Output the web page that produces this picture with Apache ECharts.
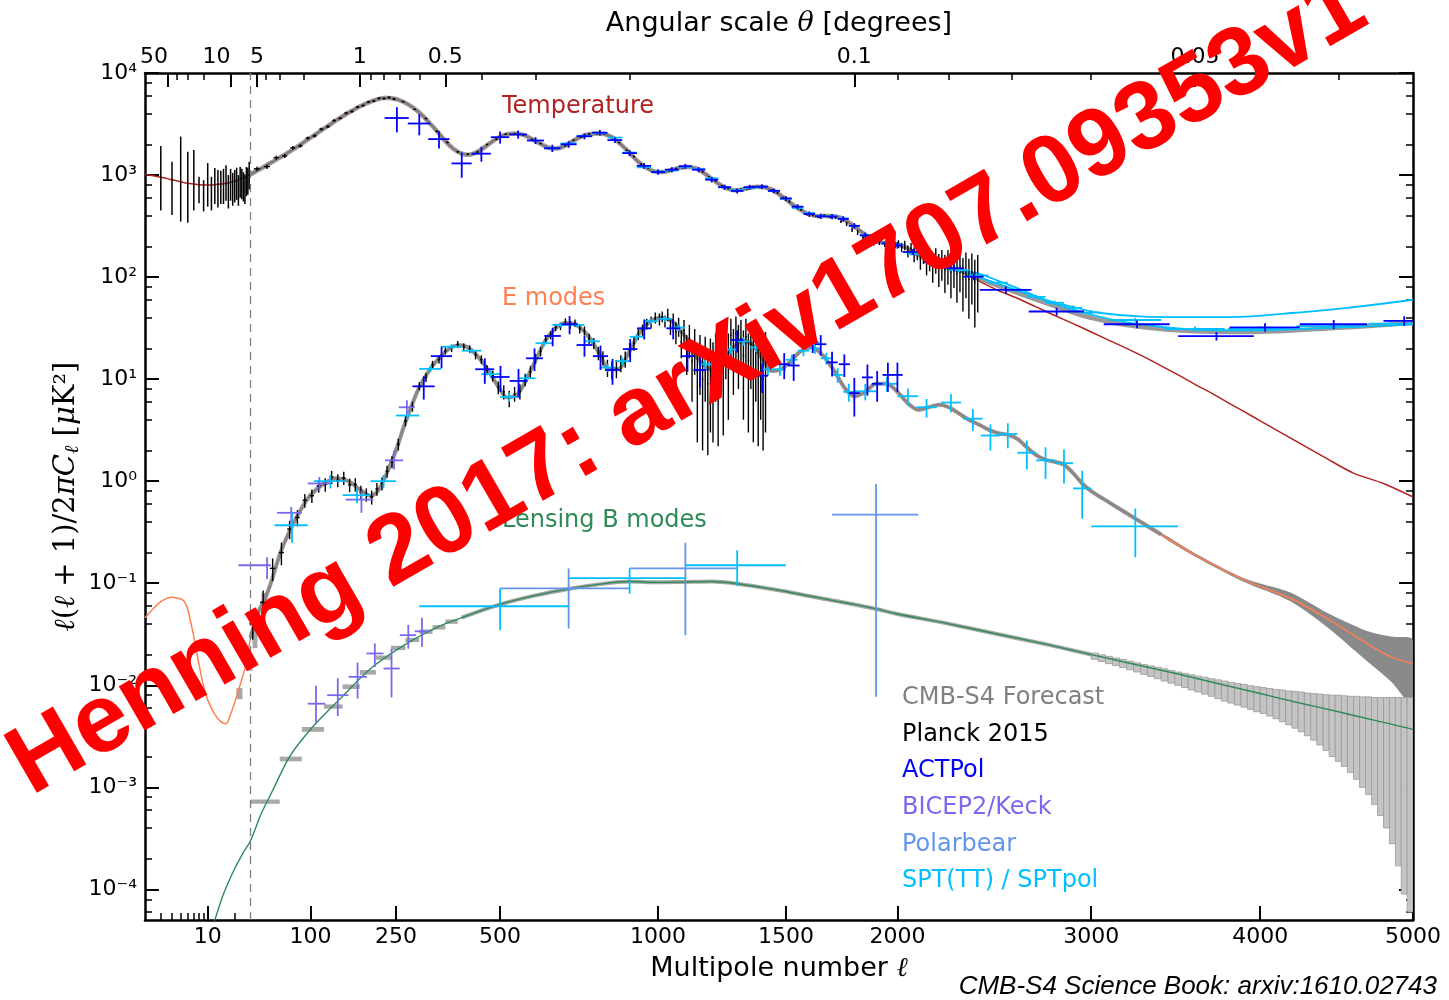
<!DOCTYPE html>
<html>
<head>
<meta charset="utf-8">
<title>CMB temperature and polarization power spectra</title>
<script src="https://cdn.jsdelivr.net/npm/echarts@6/dist/echarts.min.js"></script>
<style>
  html, body { margin: 0; padding: 0; background: #ffffff; }
  #chart { width: 1449px; height: 1000px; }
</style>
</head>
<body>
<div id="chart"></div>
<script>
// ---------------- Axis ticks ----------------
const ellTicks = [10, 100, 250, 500, 1000, 1500, 2000, 3000, 4000, 5000];
const ellMinorTicks = [3, 4, 5, 6, 7, 8, 9, 20];
const thetaTicks = [50, 10, 5, 1, 0.5, 0.1, 0.05];
const thetaTickLabels = ['50', '10', '5', '1', '0.5', '0.1', '0.05'];
const thetaMinorTicks = [40, 30, 20, 4, 3, 2, 0.9, 0.8, 0.7, 0.6, 0.4, 0.3, 0.2, 0.09, 0.08, 0.07, 0.06, 0.04];
const powerExponents = [-4, -3, -2, -1, 0, 1, 2, 3, 4];
const powerMinorMultipliers = [2, 4, 6, 8];

// ---------------- Theory spectra, D_ell = ell(ell+1)C_ell/2pi [uK^2] ----------------
const ttEll = [
  2, 3, 4, 5, 6, 8, 10, 12, 15, 20,
  25, 30, 35, 40, 50, 60, 70, 80, 90, 100,
  120, 140, 160, 180, 200, 215, 225, 235, 245, 260,
  280, 300, 320, 340, 360, 380, 400, 415, 430, 450,
  470, 500, 520, 540, 560, 580, 600, 620, 640, 660,
  680, 700, 730, 760, 790, 815, 840, 870, 900, 930,
  960, 990, 1020, 1050, 1080, 1110, 1140, 1170, 1200, 1230,
  1260, 1290, 1320, 1350, 1380, 1410, 1440, 1470, 1500, 1530,
  1560, 1590, 1620, 1650, 1680, 1710, 1740, 1770, 1800, 1830,
  1860, 1890, 1920, 1950, 1980, 2010, 2040, 2070, 2100, 2150,
  2200, 2250, 2300, 2350, 2400, 2450, 2500, 2600, 2700, 2800,
  2900, 3000, 3100, 3200, 3300, 3400, 3500, 3600, 3700, 3800,
  3900, 4000, 4200, 4400, 4600, 4800, 5000];
const ttD = [
  1010, 950, 900, 860, 830, 805, 800, 805, 820, 870,
  940, 1010, 1090, 1160, 1320, 1480, 1660, 1860, 2080, 2320,
  2850, 3450, 4080, 4700, 5250, 5550, 5680, 5700, 5620, 5350,
  4800, 4100, 3350, 2700, 2150, 1800, 1620, 1580, 1620, 1780,
  2020, 2380, 2520, 2560, 2500, 2350, 2150, 1980, 1850, 1820,
  1880, 2030, 2300, 2500, 2560, 2520, 2350, 2000, 1650, 1350,
  1170, 1080, 1070, 1120, 1180, 1200, 1160, 1050, 920, 810,
  740, 710, 720, 750, 770, 760, 720, 650, 580, 510,
  460, 420, 400, 395, 398, 395, 380, 350, 315, 280,
  250, 230, 220, 215, 212, 205, 195, 180, 165, 145,
  132, 124, 115, 104, 92, 82, 74, 62, 51, 42,
  35, 29, 24, 20, 16.5, 13.5, 11, 8.9, 7.3, 5.9,
  4.8, 3.9, 2.6, 1.75, 1.2, 0.95, 0.7];

const eeEll = [
  2, 2.5, 3, 3.5, 4, 5, 5.5, 6, 7, 8,
  9, 10, 12, 14, 16, 18, 20, 24, 27, 30,
  35, 40, 45, 50, 60, 70, 80, 90, 100, 120,
  140, 160, 180, 200, 215, 230, 250, 270, 300, 330,
  360, 380, 400, 430, 460, 490, 520, 550, 590, 630,
  660, 690, 720, 760, 800, 830, 860, 900, 940, 980,
  1010, 1050, 1100, 1150, 1200, 1240, 1280, 1320, 1360, 1400,
  1440, 1480, 1520, 1560, 1610, 1660, 1710, 1760, 1800, 1850,
  1900, 1950, 2000, 2050, 2100, 2150, 2200, 2250, 2300, 2350,
  2400, 2450, 2500, 2550, 2600, 2650, 2700, 2750, 2800, 2850,
  2900, 2950, 3000, 3100, 3250, 3400, 3600, 3900, 4200, 4450,
  4700, 4850, 5000];
const eeD = [
  0.046, 0.057, 0.066, 0.071, 0.073, 0.07, 0.066, 0.055, 0.03, 0.016,
  0.0098, 0.0072, 0.0052, 0.0044, 0.0042, 0.0052, 0.0068, 0.0115, 0.0165, 0.029,
  0.045, 0.06, 0.075, 0.1, 0.19, 0.3, 0.43, 0.58, 0.73, 0.95,
  1.07, 1.0, 0.83, 0.72, 0.82, 1.15, 2.0, 3.8, 8.3, 13.5,
  18.5, 21, 21.5, 18.5, 13.5, 9, 6.6, 7.2, 13, 24,
  31.5, 35.5, 34.5, 27, 17.5, 12.5, 12.5, 19, 30, 38,
  40, 37, 26, 15.5, 12.5, 15, 20, 23.5, 22, 16,
  12, 12.5, 15, 18.5, 20.5, 17, 12, 8, 6.8, 7.5,
  9, 9, 7.5, 5.8, 5.0, 5.3, 5.6, 5.3, 4.6, 4.0,
  3.6, 3.2, 2.95, 2.85, 2.6, 2.15, 1.8, 1.62, 1.55, 1.45,
  1.2, 0.95, 0.8, 0.62, 0.43, 0.3, 0.19, 0.108, 0.07, 0.043,
  0.025, 0.019, 0.0164];

const bbEll = [
  10, 12, 15, 20, 25, 30, 40, 52, 72, 103,
  145, 203, 275, 340, 400, 500, 600, 700, 800, 900,
  1000, 1100, 1200, 1300, 1400, 1500, 1600, 1700, 1800, 1900,
  2000, 2250, 2500, 2750, 3000, 3250, 3500, 3750, 4000, 4250,
  4500, 4750, 5000];
const bbD = [
  3.0e-5, 5.0e-5, 9.0e-5, 1.6e-4, 2.3e-4, 3.0e-4, 5.5e-4, 9.3e-4, 2.0e-3, 3.9e-3,
  7.3e-3, 0.015, 0.026, 0.037, 0.046, 0.062, 0.076, 0.088, 0.098, 0.104,
  0.102, 0.103, 0.104, 0.099, 0.091, 0.083, 0.075, 0.068, 0.062, 0.056,
  0.05, 0.04, 0.0316, 0.0253, 0.020, 0.016, 0.0129, 0.0103, 0.0083, 0.0067,
  0.0055, 0.0045, 0.0037];

// Temperature forecast beyond the primary damping tail (CMB + foregrounds)
const ttFcEll = [2300, 2400, 2500, 2600, 2700, 2800, 2900, 3000, 3200, 3400, 3600, 3800, 4000, 4200, 4400, 4600, 4800, 5000];
const ttFcD   = [117, 97, 82, 70, 60, 52, 45, 40, 34, 31, 29.5, 29, 29.2, 30, 31.2, 32.5, 34, 35.5];

// SPT temperature model curves at high ell
const sptModelHiEll = [2300, 2400, 2500, 2600, 2750, 2900, 3030, 3300, 3600, 3900, 4200, 4560, 5000];
const sptModelHiD   = [118, 108, 92, 78, 60, 51, 45, 41, 40.5, 41, 44.5, 50, 60];
const sptModelLoEll = [2300, 2400, 2500, 2600, 2800, 3000, 3200, 3500, 3800, 4200, 4600, 5000];
const sptModelLoD   = [118, 100, 86, 74, 55, 43, 36, 31.5, 30, 30.8, 32.5, 34.5];

// ---------------- CMB-S4 forecast ----------------
const eeBandEll = [3400, 3600, 3900, 4190, 4430, 4690, 4850, 5000];
const eeBandHi  = [0.31, 0.197, 0.112, 0.081, 0.051, 0.034, 0.030, 0.0277];
const eeBandLo  = [0.29, 0.183, 0.103, 0.0667, 0.0368, 0.0172, 0.0109, 0.0064];

const eeBoxEllLo = [20.9, 27.1, 31.8, 40.3];
const eeBoxEllHi = [24.4, 31.8, 36.4, 46.4];
const eeBoxLo    = [0.0073, 0.0139, 0.0231, 0.0547];
const eeBoxHi    = [0.0094, 0.0194, 0.0387, 0.0805];

const bbLowEdges = [30, 60, 88, 120, 150, 180, 210, 240, 270, 300, 330, 360, 390];
const bbLowLo = [6.9e-4, 1.8e-3, 3.5e-3, 5.9e-3, 9.2e-3, 0.0127, 0.0178, 0.0221, 0.0265, 0.0319, 0.0352, 0.040];
const bbLowHi = [7.6e-4, 2.0e-3, 3.9e-3, 6.5e-3, 0.0102, 0.0141, 0.0196, 0.0244, 0.0292, 0.0352, 0.0389, 0.0441];

const bbHighEdges = [
  3000, 3040, 3080, 3120, 3160, 3200, 3240, 3280, 3320, 3360,
  3400, 3440, 3480, 3520, 3560, 3600, 3640, 3680, 3720, 3760,
  3800, 3840, 3880, 3920, 3960, 4000, 4040, 4080, 4120, 4160,
  4200, 4240, 4280, 4320, 4360, 4400, 4440, 4480, 4520, 4560,
  4600, 4640, 4680, 4720, 4760, 4800, 4840, 4880, 4920, 4960, 5000];
const bbHighHi = [
  0.0207, 0.0199, 0.0192, 0.0185, 0.0179, 0.0172, 0.0166, 0.0160, 0.0155, 0.0150,
  0.0145, 0.0140, 0.0135, 0.0131, 0.0127, 0.0123, 0.0120, 0.0116, 0.0113, 0.0110,
  0.0107, 0.0104, 0.0102, 0.0099, 0.0097, 0.0095, 0.0093, 0.0091, 0.0090, 0.0088,
  0.0087, 0.0086, 0.0084, 0.0083, 0.0082, 0.0081, 0.0080, 0.0080, 0.0079, 0.0078,
  0.0078, 0.0077, 0.0077, 0.0076, 0.0076, 0.0076, 0.0076, 0.0076, 0.0076, 0.0076];
const bbHighLo = [
  0.0180, 0.0171, 0.0163, 0.0156, 0.0149, 0.0142, 0.0135, 0.0128, 0.0122, 0.0116,
  0.0110, 0.0105, 0.0100, 0.0095, 0.0090, 0.0086, 0.0082, 0.0078, 0.0074, 0.0070,
  0.0067, 0.0064, 0.0061, 0.0058, 0.0055, 0.0053, 0.0050, 0.0047, 0.0044, 0.0041,
  0.0038, 0.0035, 0.0032, 0.0029, 0.0026, 0.0023, 0.0020, 0.0018, 0.0016, 0.0014,
  0.0012, 0.0010, 0.00085, 0.00068, 0.00053, 0.00040, 0.00028, 0.00017, 0.00009, 0.00006];

// ---------------- Planck 2015 ----------------
const planckTTLowEll = [3, 4, 5, 6, 7, 8, 9, 10, 11, 12, 13, 14, 15, 16, 17, 18, 19, 20, 21, 22, 23, 24, 25, 26, 27, 28, 29];
const planckTTLowD  = [1000, 760, 1250, 900, 1100, 720, 640, 850, 680, 800, 760, 780, 800, 880, 700, 830, 740, 800, 850, 720, 880, 840, 780, 740, 900, 900, 1050];
const planckTTLowLo = [450, 405, 350, 340, 450, 530, 440, 490, 450, 520, 480, 520, 520, 560, 470, 560, 500, 540, 570, 500, 600, 580, 550, 520, 620, 640, 720];
const planckTTLowHi = [1930, 1350, 2380, 1690, 1760, 960, 890, 1310, 960, 1170, 1120, 1100, 1150, 1250, 1000, 1150, 1050, 1120, 1180, 1000, 1200, 1150, 1070, 1020, 1200, 1180, 1350];

const planckTTEll = [
  36, 46, 56, 66, 76, 86, 96, 106, 116, 126, 136, 146, 156, 166, 176, 186, 196, 206, 216, 226, 236, 246,
  265, 290, 315, 340, 365, 390, 415, 440, 465, 490,
  515, 540, 565, 590, 615, 640, 665, 690, 715, 740,
  765, 790, 815, 840, 865, 890, 915, 940, 965, 990,
  1015, 1040, 1065, 1090, 1115, 1140, 1165, 1190, 1215, 1240,
  1265, 1290, 1315, 1340, 1365, 1390, 1415, 1440, 1465, 1490,
  1515, 1540, 1565, 1590, 1615, 1640, 1665, 1690, 1715, 1740,
  1765, 1790, 1815, 1840, 1865, 1890, 1915, 1940, 1965, 1990,
  2005, 2020, 2035, 2050, 2065, 2080, 2095, 2110, 2125, 2140, 2155, 2170, 2185, 2200,
  2215, 2230, 2245, 2260, 2275, 2290, 2305, 2320, 2335, 2350, 2365, 2380, 2395];
const planckTTD = [
  1150, 1210, 1480, 1540, 1850, 1930, 2300, 2420, 2820, 2980, 3420, 3600, 4050, 4200, 4650, 4800, 5200, 5300, 5650, 5620, 5760, 5560,
  5250, 4400, 3580, 2680, 2090, 1690, 1600, 1680, 1990, 2240,
  2510, 2540, 2480, 2230, 2040, 1830, 1850, 1940, 2190, 2350,
  2530, 2540, 2540, 2330, 2080, 1750, 1520, 1280, 1165, 1070,
  1080, 1095, 1160, 1180, 1205, 1150, 1080, 955, 875, 780,
  740, 705, 725, 735, 768, 760, 760, 712, 668, 598,
  550, 488, 458, 415, 408, 392, 402, 390, 384, 350,
  332, 292, 274, 243, 234, 218, 220, 210, 216, 205,
  212, 196, 205, 180, 190, 168, 176, 150, 168, 140, 152, 128, 150, 124,
  138, 118, 134, 112, 130, 108, 125, 100, 118, 95, 112, 90, 105];
const planckTTErr = [
  60, 62, 65, 68, 72, 76, 80, 84, 90, 95, 100, 105, 110, 115, 120, 125, 130, 135, 140, 145, 145, 145,
  80, 70, 60, 50, 40, 35, 32, 32, 36, 40,
  42, 42, 40, 36, 32, 30, 30, 30, 32, 34,
  36, 36, 36, 34, 30, 27, 24, 22, 20, 20,
  20, 20, 21, 22, 22, 21, 20, 19, 18, 17,
  16, 16, 16, 17, 18, 18, 18, 17, 16, 15,
  15, 14, 14, 13, 13, 13, 13, 13, 13, 12,
  16, 16, 15, 15, 14, 14, 14, 13, 13, 13,
  18, 20, 22, 24, 26, 28, 30, 32, 34, 36, 38, 40, 42, 44,
  46, 48, 50, 50, 52, 52, 54, 54, 56, 56, 58, 58, 60];

const planckEEEll = [
  32, 42, 52, 62, 72, 82, 92, 102, 112, 122, 132, 142, 152, 162, 172, 182, 192, 202, 212, 222, 232, 242,
  255, 270, 285, 300, 315, 330, 345, 360, 375, 390,
  405, 420, 435, 450, 465, 480, 495, 510, 525, 540,
  555, 570, 585, 600, 615, 630, 645, 660, 675, 690,
  705, 720, 735, 750, 765, 780, 795, 810, 825, 840,
  855, 870, 885, 900, 915, 930, 945, 960, 975, 990, 1005,
  1015, 1025, 1035, 1045, 1055, 1065, 1075, 1085, 1095, 1105,
  1115, 1125, 1135, 1145, 1155, 1165, 1175, 1185, 1195, 1205,
  1215, 1225, 1235, 1245, 1255, 1265, 1275, 1285, 1295, 1305,
  1315, 1325, 1335, 1345, 1355, 1365, 1375, 1385, 1395, 1405, 1415];
const planckEED = [
  0.04, 0.065, 0.14, 0.2, 0.34, 0.44, 0.65, 0.72, 0.9, 0.93, 1.1, 1.02, 1.08, 0.92, 0.93, 0.78, 0.74, 0.7, 0.84, 0.95, 1.25, 1.55,
  2.3, 3.9, 5.4, 8.6, 10.4, 13.9, 15.5, 19.0, 20.0, 21.9,
  20.6, 19.8, 17.2, 15.6, 12.3, 10.8, 8.3, 7.5, 6.5, 7.2,
  7.6, 9.9, 11.8, 15.9, 18.7, 24.6, 27.0, 32.3, 33.0, 36.4,
  34.2, 35.5, 31.0, 29.8, 25.0, 22.5, 18.0, 16.2, 13.0, 12.4,
  12.8, 14.4, 15.8, 19.5, 22.4, 27.9, 30.2, 34.8, 36.5, 40.0, 38.8,
  41, 37, 43, 33, 38, 29, 33, 23, 30, 19,
  25, 15, 21, 12, 17, 10, 16, 9, 14, 12,
  17, 11, 19, 14, 22, 16, 27, 19, 28, 21,
  25, 17, 26, 15, 22, 12, 20, 11, 18, 10, 15];
const planckEEErr = [
  0.012, 0.02, 0.035, 0.05, 0.07, 0.08, 0.1, 0.11, 0.13, 0.14, 0.16, 0.15, 0.16, 0.14, 0.14, 0.12, 0.11, 0.11, 0.12, 0.14, 0.17, 0.21,
  0.3, 0.45, 0.6, 0.8, 1.0, 1.2, 1.3, 1.5, 1.6, 1.7,
  1.7, 1.7, 1.6, 1.5, 1.4, 1.3, 1.2, 1.2, 1.2, 1.2,
  1.3, 1.4, 1.6, 1.8, 2.0, 2.2, 2.4, 2.6, 2.8, 3.0,
  3.0, 3.0, 3.0, 3.0, 2.9, 2.8, 2.7, 2.6, 2.5, 2.5,
  2.6, 2.7, 2.9, 3.1, 3.4, 3.7, 4.0, 4.3, 4.6, 5.0, 5.3,
  5, 5, 6, 6, 6, 7, 7, 7, 8, 8,
  9, 9, 10, 10, 10, 10, 10, 10, 11, 11,
  11, 11, 11, 12, 12, 12, 12, 12, 13, 13,
  13, 13, 13, 13, 14, 14, 14, 14, 14, 14, 14];

// ---------------- ACTPol ----------------
const actTTEll = [
  252, 300, 345, 400, 450, 500, 550, 600, 650, 700,
  750, 800, 850, 900, 950, 1000, 1050, 1100, 1150, 1200,
  1250, 1300, 1350, 1400, 1450, 1500, 1550, 1600, 1650, 1700,
  1750, 1800, 1850, 1900, 1950, 2000, 2075, 2175, 2275, 2375,
  2540, 2810, 3260, 3730, 4030, 4470, 4940];
const actTTD = [
  3620, 3200, 2250, 1300, 1620, 2350, 2500, 2180, 1830, 2000,
  2400, 2600, 2200, 1640, 1230, 1070, 1130, 1220, 1130, 900,
  760, 700, 760, 770, 700, 590, 490, 415, 395, 392,
  372, 318, 256, 226, 214, 205, 176, 140, 122, 101,
  75, 46, 34.5, 26.4, 32.2, 34.5, 37.3];
const actTTHw = [
  25, 25, 25, 25, 25, 25, 25, 25, 25, 25,
  25, 25, 25, 25, 25, 25, 25, 25, 25, 25,
  25, 25, 25, 25, 25, 25, 25, 25, 25, 25,
  25, 25, 25, 25, 25, 25, 50, 50, 50, 50,
  135, 150, 190, 230, 220, 220, 140];
const actTTErr = [
  1000, 750, 430, 360, 270, 320, 230, 170, 150, 150,
  160, 160, 140, 110, 80, 65, 65, 70, 65, 55,
  45, 40, 42, 42, 38, 33, 28, 25, 24, 24,
  23, 20, 17, 15, 15, 15, 12, 10, 9, 8,
  6, 4, 3, 2.5, 3, 3.5, 4];

const actEEEll = [
  310, 351, 459, 501, 551, 597, 651, 703, 750, 802,
  842, 902, 951, 1055, 1108, 1155, 1300, 1401, 1493, 1533,
  1615, 1650, 1700, 1755, 1800, 1860, 1905, 1955, 2000];
const actEED = [
  8.5, 16.8, 12.5, 10.5, 9.6, 16, 26.5, 34.5, 21.6, 16.8,
  12.3, 19.7, 31.5, 31.5, 16.8, 12.3, 24.2, 10.8, 14.0, 13.6,
  23, 22, 14.6, 14, 7.3, 10.4, 9, 11, 11];
const actEEErr = [
  2.2, 4, 3.5, 3, 3, 4, 5.5, 7, 5, 4.5,
  3.5, 5, 7, 7, 5, 4, 6, 3.5, 4, 4,
  5, 5, 4, 3.5, 3, 3.5, 3, 3.5, 3.5];
const actEEHw = 25;

// ---------------- SPT / SPTpol ----------------
const sptTTEll = [
  650, 700, 750, 800, 850, 900, 950, 1000, 1050, 1100,
  1150, 1200, 1250, 1300, 1350, 1400, 1450, 1500, 1550, 1600,
  1650, 1700, 1750, 1800, 1850, 1900, 1950, 2000, 2100, 2200,
  2300, 2400, 2500, 2600, 2700, 2800, 2900, 3000, 3250, 3600,
  4000, 4450, 4850];
const sptTTD = [
  1830, 2040, 2420, 2580, 2330, 1660, 1190, 1080, 1110, 1200,
  1150, 930, 760, 715, 745, 765, 700, 585, 475, 425,
  398, 396, 376, 318, 258, 228, 216, 207, 168, 135,
  117, 104, 88, 75, 64, 56, 50, 45, 38, 31,
  31, 33, 35];
const sptTTHw = [
  25, 25, 25, 25, 25, 25, 25, 25, 25, 25,
  25, 25, 25, 25, 25, 25, 25, 25, 25, 25,
  25, 25, 25, 25, 25, 25, 25, 25, 50, 50,
  50, 50, 50, 50, 50, 50, 50, 50, 150, 180,
  200, 220, 150];
const sptTTErr = [
  40, 45, 50, 50, 45, 35, 25, 22, 22, 24,
  23, 19, 16, 15, 16, 16, 15, 13, 11, 10,
  10, 10, 10, 9, 8, 7, 7, 7, 6, 5,
  5, 4.5, 4, 3.5, 3, 2.8, 2.6, 2.4, 2, 1.8,
  1.8, 2, 2.2];

const sptEEEll = [
  75, 130, 175, 225, 275, 325, 375, 425, 475, 525,
  575, 625, 675, 725, 775, 825, 875, 925, 975, 1025,
  1075, 1125, 1175, 1225, 1275, 1325, 1375, 1425, 1475, 1525,
  1575, 1625, 1675, 1725, 1775, 1850, 1950, 2050, 2140, 2260,
  2370, 2460, 2550, 2650, 2750, 2850, 2950, 3250];
const sptEED = [
  0.37, 1.0, 0.73, 1.0, 4.4, 12.6, 20.8, 19, 11.2, 6.7,
  10.2, 22.5, 34, 34, 23.5, 13, 15, 26, 37, 39,
  32, 20.5, 14, 14, 19.5, 23.5, 20.5, 12.5, 12.5, 15.5,
  19, 20, 16, 11, 7.5, 7.6, 9.0, 6.8, 5.3, 5.9,
  4.1, 2.8, 2.9, 1.9, 1.6, 1.5, 0.85, 0.36];
const sptEEHw = [
  21, 25, 25, 25, 25, 25, 25, 25, 25, 25,
  25, 25, 25, 25, 25, 25, 25, 25, 25, 25,
  25, 25, 25, 25, 25, 25, 25, 25, 25, 25,
  25, 25, 25, 25, 25, 50, 50, 50, 50, 50,
  50, 50, 50, 50, 50, 50, 50, 250];
const sptEEErr = [
  0.12, 0.15, 0.12, 0.15, 0.4, 0.9, 1.2, 1.2, 0.9, 0.7,
  0.9, 1.4, 1.8, 1.9, 1.6, 1.2, 1.3, 1.8, 2.4, 2.6,
  2.4, 1.9, 1.6, 1.6, 1.9, 2.2, 2.1, 1.7, 1.7, 1.9,
  2.2, 2.3, 2.1, 1.8, 1.5, 1.4, 1.5, 1.3, 1.1, 1.2,
  1.0, 0.8, 0.8, 0.6, 0.55, 0.55, 0.42, 0.18];

const sptBBEll   = [500, 900, 1300];
const sptBBEllLo = [300, 700, 1100];
const sptBBEllHi = [700, 1100, 1500];
const sptBBD     = [0.0595, 0.112, 0.15];
const sptBBLo    = [0.0346, 0.079, 0.094];
const sptBBHi    = [0.0893, 0.14, 0.21];

// ---------------- BICEP2/Keck ----------------
const bkEEEll   = [46, 74, 113, 183, 246, 273];
const bkEEEllLo = [22, 57, 96, 155, 228, 256];
const bkEEEllHi = [50, 88, 130, 205, 265, 290];
const bkEED     = [0.15, 0.49, 0.95, 0.66, 1.6, 5.3];
const bkEELo    = [0.11, 0.36, 0.8, 0.49, 1.3, 4.5];
const bkEEHi    = [0.18, 0.56, 1.1, 0.8, 2.0, 6.2];

const bkBBEll   = [108, 142, 176, 208, 241, 276, 306];
const bkBBEllLo = [96, 125, 160, 192, 225, 258, 290];
const bkBBEllHi = [122, 160, 193, 225, 258, 293, 322];
const bkBBD     = [0.0066, 0.008, 0.0121, 0.0205, 0.0146, 0.031, 0.0338];
const bkBBLo    = [0.0043, 0.005, 0.0074, 0.0151, 0.0076, 0.0228, 0.0238];
const bkBBHi    = [0.0099, 0.0117, 0.0167, 0.0257, 0.0228, 0.039, 0.046];

// ---------------- Polarbear ----------------
const pbBBEll   = [700, 1100, 1900];
const pbBBEllLo = [500, 900, 1700];
const pbBBEllHi = [900, 1300, 2100];
const pbBBD     = [0.089, 0.14, 0.47];
const pbBBLo    = [0.036, 0.031, 0.0077];
const pbBBHi    = [0.14, 0.25, 0.94];

// ---------------- Scales ----------------
// Multipole axis: logarithmic below ell = 30 and ell^0.6 above, joined at ell = 30.
const ELL_SPLIT = 30;
function ellAxis(l) {
  return l <= ELL_SPLIT ? 90 * Math.log10(l / ELL_SPLIT)
                        : 7.38 * (Math.pow(l, 0.6) - Math.pow(ELL_SPLIT, 0.6));
}
const powAxis = d => Math.log10(d);
const X_MIN = ellAxis(2), X_MAX = ellAxis(5000);
const Y_MIN = -4.3, Y_MAX = 4;

// ---------------- Helpers ----------------
const FONT = 'DejaVu Sans';
const SUP = { '-': '\u207b', '0': '\u2070', '1': '\u00b9', '2': '\u00b2', '3': '\u00b3', '4': '\u2074', '5': '\u2075', '6': '\u2076', '7': '\u2077', '8': '\u2078', '9': '\u2079' };
const toSup = n => String(n).split('').map(c => SUP[c]).join('');

function tickLabel(v, positions, labels) {
  for (let i = 0; i < positions.length; i++) if (Math.abs(positions[i] - v) < 1e-6) return labels[i];
  return '';
}
function linePts(ell, d, lo, hi) {
  const out = [];
  ell.forEach((l, i) => { if (l >= (lo ?? -Infinity) && l <= (hi ?? Infinity)) out.push([ellAxis(l), powAxis(d[i])]); });
  return out;
}
const hwOf = (hw, i) => Array.isArray(hw) ? hw[i] : hw;
function crossFromErr(ell, d, hw, err, floorFrac) {
  return ell.map((l, i) => {
    const e = hwOf(err, i), w = hwOf(hw, i);
    const lo = Math.max(d[i] - e, d[i] * floorFrac);
    return [ellAxis(l), powAxis(d[i]), ellAxis(l - w), ellAxis(l + w), powAxis(lo), powAxis(d[i] + e)];
  });
}
function crossFromRange(ell, d, ellLo, ellHi, dLo, dHi) {
  return ell.map((l, i) => [ellAxis(l), powAxis(d[i]), ellAxis(ellLo[i]), ellAxis(ellHi[i]), powAxis(dLo[i]), powAxis(dHi[i])]);
}
function binsFromEdges(edges, lo, hi) {
  return lo.map((v, i) => [ellAxis(edges[i]), ellAxis(edges[i + 1]), powAxis(v), powAxis(hi[i])]);
}

function crossSeries(name, data, color, width, z) {
  return {
    type: 'custom', name, data, z, clip: true, silent: true,
    encode: { x: 0, y: 1 },
    renderItem: (params, api) => {
      const a = api.coord([api.value(2), api.value(1)]);
      const b = api.coord([api.value(3), api.value(1)]);
      const c = api.coord([api.value(0), api.value(4)]);
      const e = api.coord([api.value(0), api.value(5)]);
      return {
        type: 'group', children: [
          { type: 'line', shape: { x1: a[0], y1: a[1], x2: b[0], y2: b[1] }, style: { stroke: color, lineWidth: width } },
          { type: 'line', shape: { x1: c[0], y1: c[1], x2: e[0], y2: e[1] }, style: { stroke: color, lineWidth: width } }
        ]
      };
    }
  };
}
function binSeries(name, data, fill, stroke, lw, z) {
  return {
    type: 'custom', name, data, z, clip: true, silent: true,
    encode: { x: [0, 1], y: [2, 3] },
    renderItem: (params, api) => {
      const p0 = api.coord([api.value(0), api.value(3)]);
      const p1 = api.coord([api.value(1), api.value(2)]);
      return {
        type: 'rect',
        shape: { x: p0[0], y: p0[1], width: p1[0] - p0[0], height: Math.max(p1[1] - p0[1], 1) },
        style: { fill, stroke: stroke || null, lineWidth: lw || 0 }
      };
    }
  };
}
function lineSeries(name, data, color, width, z, extra) {
  return Object.assign({
    type: 'line', name, data, z, showSymbol: false, symbol: 'none', smooth: 0.3, silent: true, clip: true,
    lineStyle: { color, width }
  }, extra || {});
}

// ---------------- Axes ----------------
const ellTickPos = ellTicks.map(ellAxis);
const thetaTickPos = thetaTicks.map(t => ellAxis(180 / t));
const thetaMinorPos = thetaMinorTicks.map(t => ellAxis(180 / t));
const ellMinorPos = ellMinorTicks.map(ellAxis);
const yMinorPos = [];
for (let n = -5; n <= 3; n++) powerMinorMultipliers.forEach(k => {
  const v = n + Math.log10(k);
  if (v > Y_MIN && v < Y_MAX) yMinorPos.push(v);
});

function baseAxis(extra) {
  return Object.assign({
    type: 'value', gridIndex: 0, splitLine: { show: false }, axisPointer: { show: false },
    axisLine: { show: true, onZero: false, lineStyle: { color: '#000', width: 2.5 } },
    axisLabel: { show: false }, nameMoveOverlap: false
  }, extra);
}
const majorTick = vals => ({ show: true, inside: true, length: 14, lineStyle: { color: '#000', width: 2 }, customValues: vals });
const minorTick = vals => ({ show: true, inside: true, length: 7, lineStyle: { color: '#000', width: 1.5 }, customValues: vals });

const labelStyle = { color: '#000', fontFamily: FONT, fontSize: 22 };

const xAxes = [
  baseAxis({
    position: 'bottom', min: X_MIN, max: X_MAX,
    axisTick: majorTick(ellTickPos),
    axisLabel: Object.assign({ show: true, margin: 6, customValues: ellTickPos,
      formatter: v => tickLabel(v, ellTickPos, ellTicks.map(String)) }, labelStyle),
    name: '{n|Multipole number }{m|\u2113}', nameLocation: 'middle', nameGap: 35,
    nameTextStyle: { rich: {
      n: { fontFamily: FONT, fontSize: 27, color: '#000' },
      m: { fontFamily: 'DejaVu Serif', fontStyle: 'italic', fontSize: 27, color: '#000' } } }
  }),
  baseAxis({ position: 'bottom', min: X_MIN, max: X_MAX, axisLine: { show: false, onZero: false }, axisTick: minorTick(ellMinorPos) }),
  baseAxis({
    position: 'top', min: X_MIN, max: X_MAX,
    axisTick: majorTick(thetaTickPos),
    axisLabel: Object.assign({ show: true, margin: 5, customValues: thetaTickPos,
      formatter: v => {
        const s = tickLabel(v, thetaTickPos, thetaTickLabels);
        return (s === '50' || s === '10') ? '{o|' + s + '}' : s;
      },
      rich: { o: { color: '#000', fontFamily: FONT, fontSize: 22, padding: [0, 28, 0, 0] } } }, labelStyle),
    name: '{n|Angular scale }{m|\u03b8}{n| [degrees]}', nameLocation: 'middle', nameGap: 36,
    nameTextStyle: { rich: {
      n: { fontFamily: FONT, fontSize: 27, color: '#000' },
      m: { fontFamily: 'DejaVu Serif', fontStyle: 'italic', fontSize: 27, color: '#000' } } }
  }),
  baseAxis({ position: 'top', min: X_MIN, max: X_MAX, axisLine: { show: false, onZero: false }, axisTick: minorTick(thetaMinorPos) })
];

const yAxes = [
  baseAxis({
    position: 'left', min: Y_MIN, max: Y_MAX,
    axisTick: majorTick(powerExponents),
    axisLabel: Object.assign({ show: true, margin: 8, customValues: powerExponents,
      formatter: v => '10' + toSup(Math.round(v)) }, labelStyle),
    name: '{m|\u2113}{r|(}{m|\u2113}{r| + 1)/2}{m|\u03c0C}{s|\u2113}{r| [}{m|\u03bc}{r|K\u00b2]}',
    nameLocation: 'middle', nameGap: 62,
    nameTextStyle: { rich: {
      m: { fontFamily: 'DejaVu Serif', fontStyle: 'italic', fontSize: 29, color: '#000' },
      r: { fontFamily: 'DejaVu Serif', fontSize: 29, color: '#000' },
      s: { fontFamily: 'DejaVu Serif', fontStyle: 'italic', fontSize: 20, color: '#000', padding: [13, 0, 0, 0] } } }
  }),
  baseAxis({ position: 'left', min: Y_MIN, max: Y_MAX, axisLine: { show: false, onZero: false }, axisTick: minorTick(yMinorPos) }),
  baseAxis({ position: 'right', min: Y_MIN, max: Y_MAX, axisTick: majorTick(powerExponents) }),
  baseAxis({ position: 'right', min: Y_MIN, max: Y_MAX, axisLine: { show: false, onZero: false }, axisTick: minorTick(yMinorPos) })
];

// ---------------- Series ----------------
const GRAY = '#808080';
const ttForecast = linePts(ttEll, ttD, 30, 2250).concat(linePts(ttFcEll, ttFcD));

const series = [
  // CMB-S4 forecast bins and band (beneath the theory curves)
  {
    type: 'custom', name: 'CMB-S4 EE band', z: 1, clip: true, silent: true,
    data: [[ellAxis(4200), powAxis(0.07)]], encode: { x: 0, y: 1 },
    renderItem: (params, api) => {
      const pts = [];
      eeBandEll.forEach((l, i) => pts.push(api.coord([ellAxis(l), powAxis(eeBandHi[i])])));
      for (let i = eeBandEll.length - 1; i >= 0; i--) pts.push(api.coord([ellAxis(eeBandEll[i]), powAxis(eeBandLo[i])]));
      return { type: 'polygon', shape: { points: pts, smooth: 0.3 }, style: { fill: '#8a8a8a' } };
    }
  },
  binSeries('CMB-S4 EE low ell', eeBoxEllLo.map((l, i) => [ellAxis(l), ellAxis(eeBoxEllHi[i]), powAxis(eeBoxLo[i]), powAxis(eeBoxHi[i])]), '#a8a8a8', null, 0, 1),
  binSeries('CMB-S4 BB low ell', binsFromEdges(bbLowEdges, bbLowLo, bbLowHi), '#a8a8a8', null, 0, 1),
  binSeries('CMB-S4 BB high ell', binsFromEdges(bbHighEdges, bbHighLo, bbHighHi), '#c4c4c4', '#9a9a9a', 0.8, 1),
  lineSeries('CMB-S4 BB', linePts(bbEll, bbD, 390, 3000), GRAY, 4, 1, { lineStyle: { color: GRAY, width: 4, opacity: 0.7 } }),

  // Theory
  lineSeries('TT theory', linePts(ttEll, ttD), '#b22222', 1.5, 2, {
    markLine: {
      silent: true, symbol: 'none', label: { show: false },
      lineStyle: { type: [8, 6], color: '#808080', width: 1.3 },
      data: [{ xAxis: ellAxis(ELL_SPLIT) }]
    }
  }),
  lineSeries('EE theory', linePts(eeEll, eeD), '#ff7f50', 1.5, 2),
  lineSeries('BB theory', linePts(bbEll, bbD), '#2e8b57', 1.4, 3),

  // CMB-S4 forecast lines drawn over the TT and EE theory
  lineSeries('CMB-S4 TT', ttForecast, GRAY, 4.5, 2.5, { lineStyle: { color: GRAY, width: 4.5, opacity: 0.8 } }),
  lineSeries('CMB-S4 EE', linePts(eeEll, eeD, 30, 3400), GRAY, 4, 2.5, { lineStyle: { color: GRAY, width: 4, opacity: 0.85 } }),

  lineSeries('SPT model high', linePts(sptModelHiEll, sptModelHiD), '#00bfff', 1.8, 2.6),
  lineSeries('SPT model low', linePts(sptModelLoEll, sptModelLoD), '#00bfff', 1.8, 2.6),

  // Planck 2015
  crossSeries('Planck TT low ell', crossFromRange(planckTTLowEll, planckTTLowD, planckTTLowEll, planckTTLowEll, planckTTLowLo, planckTTLowHi), '#000', 1.5, 3),
  crossSeries('Planck TT', crossFromErr(planckTTEll, planckTTD, 3, planckTTErr, 0.25), '#000', 1.4, 3),
  crossSeries('Planck EE', crossFromErr(planckEEEll, planckEED, 3, planckEEErr, 0.2), '#000', 1.4, 3),

  // BICEP2/Keck, Polarbear, SPT, ACTPol
  crossSeries('BICEP2/Keck EE', crossFromRange(bkEEEll, bkEED, bkEEEllLo, bkEEEllHi, bkEELo, bkEEHi), '#7b68ee', 1.8, 4),
  crossSeries('BICEP2/Keck BB', crossFromRange(bkBBEll, bkBBD, bkBBEllLo, bkBBEllHi, bkBBLo, bkBBHi), '#7b68ee', 1.8, 4),
  crossSeries('Polarbear BB', crossFromRange(pbBBEll, pbBBD, pbBBEllLo, pbBBEllHi, pbBBLo, pbBBHi), '#6495ed', 1.8, 4),
  crossSeries('SPT TT', crossFromErr(sptTTEll, sptTTD, sptTTHw, sptTTErr, 0.2), '#00bfff', 1.8, 4),
  crossSeries('SPTpol EE', crossFromErr(sptEEEll, sptEED, sptEEHw, sptEEErr, 0.2), '#00bfff', 1.8, 4),
  crossSeries('SPTpol BB', crossFromRange(sptBBEll, sptBBD, sptBBEllLo, sptBBEllHi, sptBBLo, sptBBHi), '#00bfff', 1.8, 4),
  crossSeries('ACTPol TT', crossFromErr(actTTEll, actTTD, actTTHw, actTTErr, 0.2), '#0000ff', 1.8, 5),
  crossSeries('ACTPol EE', crossFromErr(actEEEll, actEED, actEEHw, actEEErr, 0.2), '#0000ff', 1.8, 5)
];

// ---------------- Annotations ----------------
function textEl(x, y, text, fill, font, align, extra) {
  return Object.assign({
    type: 'text', x, y, z: 50, silent: true,
    style: { text, fill, font, align, verticalAlign: 'middle', textAlign: align, textVerticalAlign: 'middle' }
  }, extra || {});
}
const legendFont = '24px "DejaVu Sans"';
const legendItems = [
  ['CMB-S4 Forecast', '#808080'],
  ['Planck 2015', '#000000'],
  ['ACTPol', '#0000ff'],
  ['BICEP2/Keck', '#7b68ee'],
  ['Polarbear', '#6495ed'],
  ['SPT(TT) / SPTpol', '#00bfff']
];
const graphics = [
  textEl(502, 107, 'Temperature', '#b22222', legendFont, 'left'),
  textEl(502, 299, 'E modes', '#ff7f50', legendFont, 'left'),
  textEl(502, 521, 'Lensing B modes', '#2e8b57', legendFont, 'left'),
  textEl(1437, 987, 'CMB-S4 Science Book: arxiv:1610.02743', '#000', 'italic 26px "Liberation Sans"', 'right'),
  textEl(688, 386, 'Henning 2017: arXiv1707.09353v1', '#ff0000', 'bold 97px "Liberation Sans"', 'center',
    { rotation: Math.PI / 6, z: 100 })
];
legendItems.forEach((it, i) => graphics.push(textEl(902, 698 + i * 36.6, it[0], it[1], legendFont, 'left')));

const option = {
  animation: false,
  backgroundColor: '#ffffff',
  grid: { left: 145, right: 36, top: 73, bottom: 80, containLabel: false, outerBoundsMode: 'none' },
  xAxis: xAxes,
  yAxis: yAxes,
  series,
  graphic: graphics
};

const chart = echarts.init(document.getElementById('chart'), null, { renderer: 'canvas', width: 1449, height: 1000 });
chart.setOption(option);
</script>
</body>
</html>
